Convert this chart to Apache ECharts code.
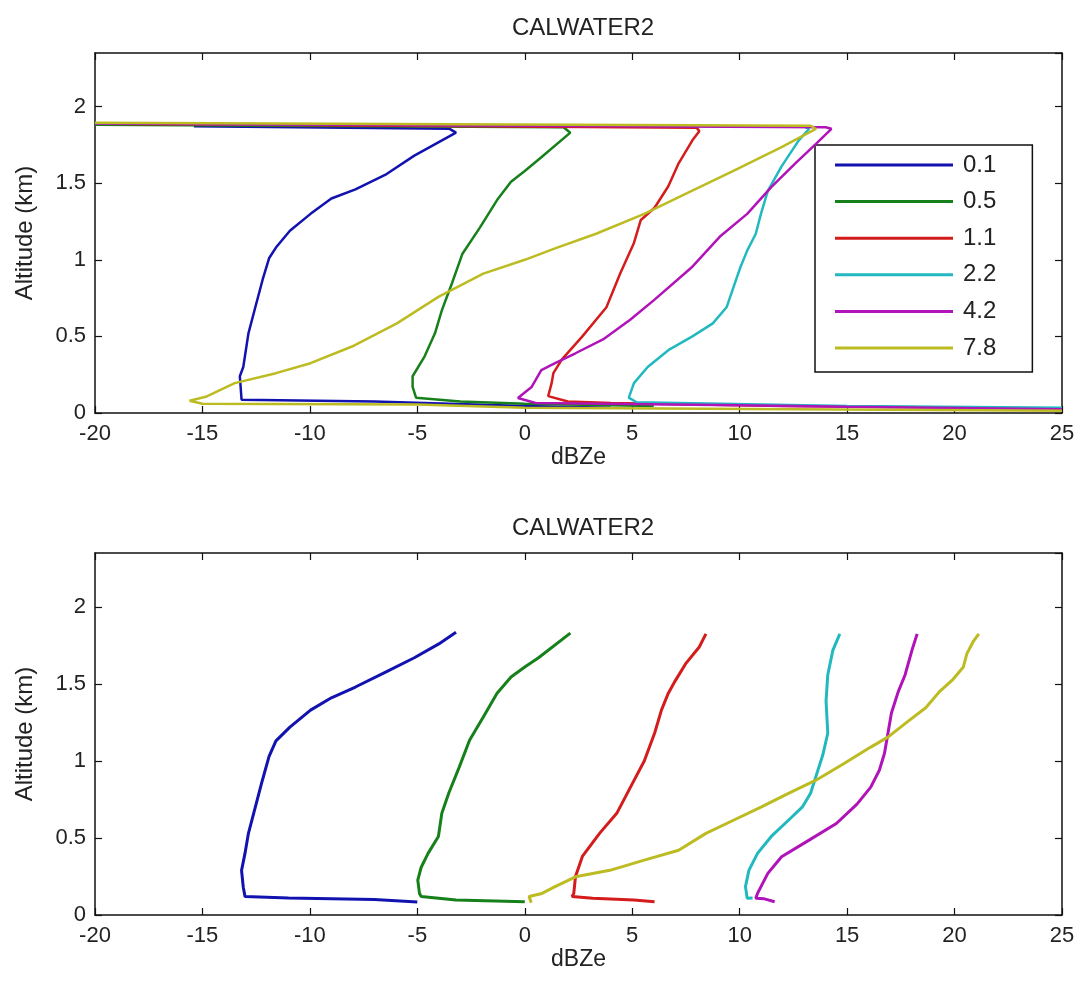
<!DOCTYPE html>
<html>
<head>
<meta charset="utf-8">
<script src="https://cdn.jsdelivr.net/npm/echarts@6/dist/echarts.min.js"></script>
<style>
html,body{margin:0;padding:0;background:#fff}
#chart{width:1078px;height:987px}
</style>
</head>
<body>
<div id="chart"></div>
<script>
// names and colours of the 6 profiles
let names = ['0.1', '0.5', '1.1', '2.2', '4.2', '7.8'];
let colors = ['#1212b0', '#16801a', '#d41c1c', '#22b8c0', '#b014b8', '#bcbc22'];
let xTicks = [-20, -15, -10, -5, 0, 5, 10, 15, 20, 25];
let yTicks = [0, 0.5, 1, 1.5, 2];

// top panel: raw profiles incl. the wrap-around lines at top and bottom  [dBZe, km]
let top01 = [[-15.4,1.872],[-3.5,1.855],[-3.2,1.83],[-5.14,1.68],[-6.43,1.56],[-7.88,1.46],[-9.0,1.40],[-9.97,1.30],
  [-10.93,1.19],[-11.58,1.08],[-11.9,1.01],[-12.2,0.87],[-12.54,0.69],[-12.86,0.52],[-13.1,0.30],[-13.26,0.24],
  [-13.18,0.087],[-7,0.075],[-7,0.065],[0,0.045],[4,0.035]];
let top05 = [[-20,1.882],[1.8,1.865],[2.12,1.83],[0.77,1.67],[0,1.58],[-0.64,1.51],[-1.29,1.39],[-2.09,1.21],
  [-2.9,1.04],[-3.38,0.85],[-3.86,0.67],[-4.18,0.52],[-4.66,0.37],[-5.22,0.24],[-5.22,0.17],[-5.06,0.10],
  [-3,0.075],[0,0.06],[6,0.045]];
let top11 = [[-20,1.888],[8.0,1.862],[8.12,1.84],[7.8,1.78],[7.16,1.63],[6.68,1.48],[6.04,1.34],[5.4,1.26],
  [5.08,1.11],[4.44,0.91],[3.8,0.69],[2.68,0.50],[1.73,0.35],[1.33,0.26],[1.25,0.195],[1.09,0.11],
  [2,0.075],[4,0.065],[12,0.045],[25,0.03]];
let top22 = [[-20,1.89],[13.0,1.87],[13.23,1.855],[12.75,1.78],[11.95,1.61],[11.31,1.45],[10.99,1.30],[10.75,1.17],
  [10.35,1.06],[10.03,0.95],[9.71,0.82],[9.39,0.69],[8.75,0.585],[7.8,0.50],[6.68,0.41],[5.72,0.30],
  [5.08,0.195],[4.84,0.10],[5.2,0.07],[15,0.045],[25,0.035]];
let top42 = [[-20,1.89],[14.0,1.865],[14.27,1.855],[13.55,1.757],[12.59,1.63],[11.47,1.475],[10.35,1.30],[9.07,1.15],
  [7.8,0.955],[6.04,0.74],[4.92,0.61],[3.64,0.48],[2.36,0.39],[1.41,0.325],[0.77,0.28],[0.32,0.17],
  [-0.32,0.098],[0.5,0.065],[10,0.05],[15,0.04],[25,0.025]];
let top78 = [[-20,1.895],[13.3,1.875],[13.55,1.855],[11.95,1.735],[9.71,1.58],[7.48,1.43],[5.56,1.30],[3.32,1.17],
  [1.41,1.075],[0,1.0],[-1.93,0.91],[-4.0,0.76],[-5.95,0.585],[-8.04,0.434],[-9.97,0.325],[-11.58,0.26],
  [-13.5,0.195],[-14.8,0.108],[-15.6,0.08],[-15,0.06],[-5,0.055],[0,0.035],[25,0.015]];

// bottom panel: cleaned profiles
let bot01 = [[-3.2,1.835],[-4.0,1.76],[-5.14,1.67],[-6.43,1.58],[-7.88,1.48],[-9.0,1.41],[-9.97,1.33],[-10.93,1.22],
  [-11.58,1.13],[-11.9,1.03],[-12.22,0.87],[-12.54,0.70],[-12.86,0.53],[-13.02,0.40],[-13.18,0.29],[-13.1,0.18],
  [-13.02,0.12],[-11,0.11],[-7,0.1],[-7,0.09],[-5,0.085]];
let bot05 = [[2.12,1.83],[0.64,1.67],[0,1.61],[-0.64,1.545],[-1.29,1.44],[-1.93,1.285],[-2.57,1.134],[-3.05,0.96],
  [-3.54,0.79],[-3.86,0.66],[-4.02,0.51],[-4.5,0.40],[-4.82,0.31],[-4.98,0.227],[-4.9,0.14],[-4.82,0.12],
  [-3.2,0.097],[0,0.086]];
let bot11 = [[8.43,1.825],[8.12,1.74],[7.48,1.63],[7.0,1.52],[6.68,1.44],[6.36,1.33],[6.04,1.18],[5.56,1.00],
  [4.92,0.83],[4.28,0.66],[3.48,0.53],[2.68,0.38],[2.36,0.25],[2.28,0.14],[2.2,0.12],[3.16,0.108],
  [5.08,0.097],[6.04,0.086]];
let bot22 = [[14.66,1.825],[14.34,1.72],[14.1,1.56],[14.02,1.39],[14.1,1.18],[13.87,1.04],[13.55,0.90],[13.3,0.79],
  [12.91,0.70],[12.27,0.615],[11.47,0.51],[10.83,0.40],[10.43,0.29],[10.27,0.184],[10.35,0.108],[10.6,0.11]];
let bot42 = [[18.26,1.825],[18.02,1.72],[17.7,1.56],[17.38,1.45],[17.06,1.31],[16.9,1.18],[16.74,1.05],[16.5,0.94],
  [16.1,0.83],[15.46,0.72],[14.5,0.594],[13.23,0.486],[11.95,0.378],[11.31,0.27],[10.83,0.14],[10.75,0.108],
  [11.15,0.105],[11.63,0.086]];
let bot78 = [[0.3,0.08],[0.2,0.12],[0.8,0.14],[1.41,0.184],[2.36,0.248],[3.96,0.29],[5.56,0.356],[7.16,0.42],
  [8.43,0.53],[9.71,0.615],[10.99,0.70],[12.27,0.79],[13.55,0.875],[14.82,0.98],[16.1,1.09],[16.9,1.155],
  [17.86,1.26],[18.66,1.345],[19.3,1.45],[19.93,1.53],[20.41,1.61],[20.57,1.695],[20.89,1.78],[21.13,1.825]];

let topData = [top01, top05, top11, top22, top42, top78];
let botData = [bot01, bot05, bot11, bot22, bot42, bot78];

let font = 'Liberation Sans, Arial, sans-serif';
let txt = '#222';
let myChart = echarts.init(document.getElementById('chart'));

function xAxes(g) {
  let base = {
    type: 'value', gridIndex: g, min: -20, max: 25, interval: 5,
    splitLine: { show: false },
    axisLine: { show: true, onZero: false, lineStyle: { color: '#111', width: 1.5 } },
    axisTick: { show: true, inside: true, length: 7, lineStyle: { color: '#111', width: 1.2 } }
  };
  return [
    Object.assign({}, base, {
      position: 'bottom',
      name: 'dBZe', nameLocation: 'middle', nameGap: 32,
      nameTextStyle: { fontFamily: font, fontSize: 23, color: txt },
      axisLabel: { margin: 10, fontFamily: font, fontSize: 22, color: txt,
        formatter: v => xTicks.indexOf(v) >= 0 ? String(v) : '' }
    }),
    Object.assign({}, base, { position: 'top', axisLabel: { show: false } })
  ];
}

function yAxes(g) {
  let base = {
    type: 'value', gridIndex: g, min: 0, max: 2.35, interval: 0.5,
    splitLine: { show: false },
    axisLine: { show: true, onZero: false, lineStyle: { color: '#111', width: 1.5 } },
    axisTick: { show: true, inside: true, length: 7, lineStyle: { color: '#111', width: 1.2 } }
  };
  return [
    Object.assign({}, base, {
      position: 'left',
      name: 'Altitude (km)', nameLocation: 'middle', nameGap: 58,
      nameTextStyle: { fontFamily: font, fontSize: 24, color: txt },
      axisLabel: { margin: 9, fontFamily: font, fontSize: 22, color: txt, showMaxLabel: false,
        formatter: v => yTicks.indexOf(v) >= 0 ? String(v) : '' }
    }),
    Object.assign({}, base, { position: 'right', axisLabel: { show: false } })
  ];
}

let series = [];
names.forEach((n, i) => {
  series.push({
    name: n, type: 'line', xAxisIndex: 0, yAxisIndex: 0, data: topData[i],
    symbol: 'none', lineStyle: { width: 2.5, color: colors[i] }, itemStyle: { color: colors[i] },
    z: 2 + i, silent: true
  });
});
names.forEach((n, i) => {
  series.push({
    name: n, type: 'line', xAxisIndex: 2, yAxisIndex: 2, data: botData[i],
    symbol: 'none', lineStyle: { width: 3, color: colors[i] }, itemStyle: { color: colors[i] },
    z: 2 + i, silent: true
  });
});

option = {
  backgroundColor: '#fff',
  animation: false,
  title: [
    { text: 'CALWATER2', left: 578, top: 11, textAlign: 'center',
      textStyle: { fontFamily: font, fontSize: 24, fontWeight: 'normal', color: txt } },
    { text: 'CALWATER2', left: 578, top: 511, textAlign: 'center',
      textStyle: { fontFamily: font, fontSize: 24, fontWeight: 'normal', color: txt } }
  ],
  grid: [
    { left: 95, top: 53, width: 967, height: 360 },
    { left: 95, top: 553, width: 967, height: 362 }
  ],
  xAxis: xAxes(0).concat(xAxes(1)),
  yAxis: yAxes(0).concat(yAxes(1)),
  legend: {
    data: names, orient: 'vertical', left: 815, top: 145,
    backgroundColor: '#fff', borderColor: '#111', borderWidth: 1.5,
    padding: [8, 36, 12, 20],
    icon: 'rect', itemWidth: 118, itemHeight: 3, itemGap: 12.6,
    textStyle: { fontFamily: font, fontSize: 24, color: txt, lineHeight: 24, padding: [0, 0, 0, 5] },
    selectedMode: false
  },
  series: series
};
myChart.setOption(option);
</script>
</body>
</html>
